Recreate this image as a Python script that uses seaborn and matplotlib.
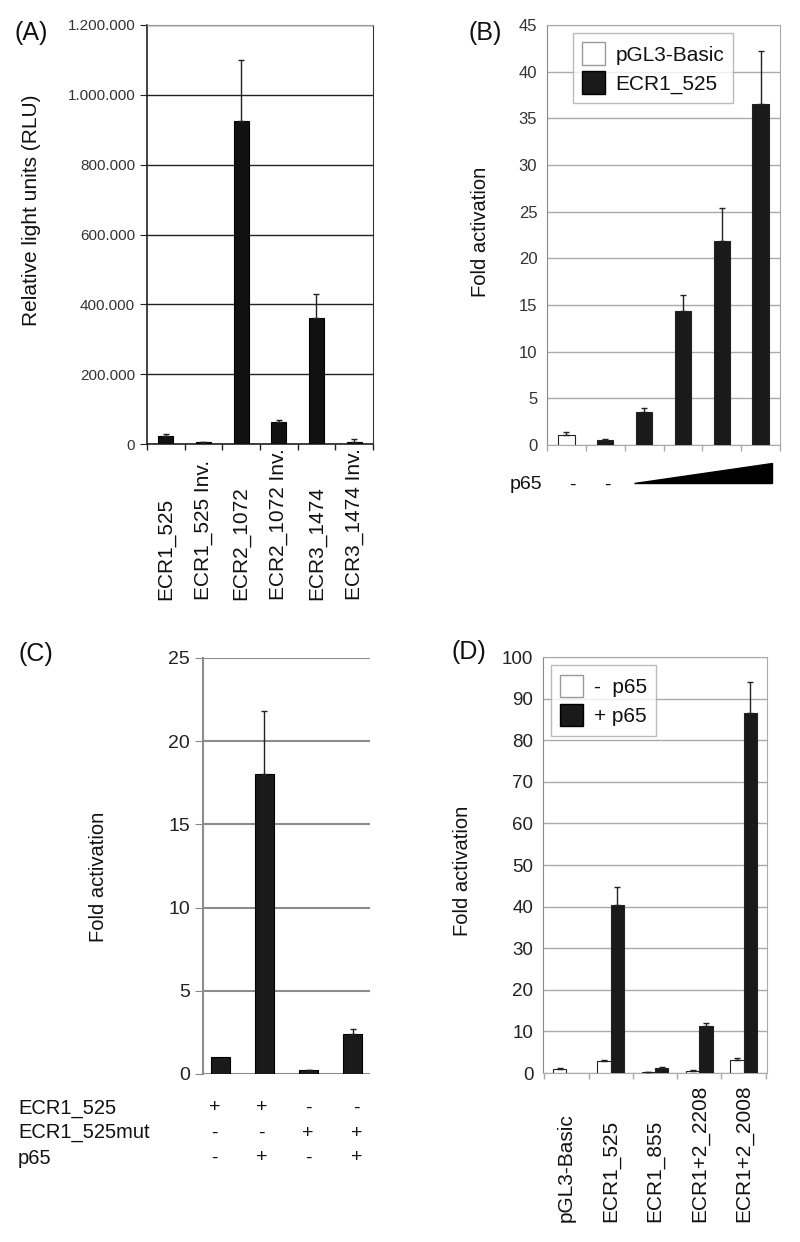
import numpy as np
import pandas as pd
import matplotlib
matplotlib.use("Agg")
import matplotlib.pyplot as plt
import matplotlib.transforms as mtransforms
from matplotlib.container import BarContainer
from matplotlib.patches import Patch, Polygon
import seaborn as sns

# ---- data ----
a_labels = ["ECR1_525", "ECR1_525 Inv.", "ECR2_1072", "ECR2_1072 Inv.", "ECR3_1474", "ECR3_1474 Inv."]
a_values = [24000, 5000, 925000, 62000, 360000, 7000]
a_errors = [6000, 1000, 175000, 8000, 70000, 7000]

b_groups = ["pGL3-Basic", "ECR1_525", "ECR1_525", "ECR1_525", "ECR1_525", "ECR1_525"]
b_slots = ["b0", "b1", "b2", "b3", "b4", "b5"]
b_values = [1.1, 0.55, 3.55, 14.4, 21.9, 36.5]
b_errors = [0.25, 0.12, 0.4, 1.7, 3.5, 5.7]

c_slots = ["c0", "c1", "c2", "c3"]
c_values = [1.05, 18.0, 0.22, 2.4]
c_errors = [0.0, 3.8, 0.05, 0.3]
c_rows = ["ECR1_525", "ECR1_525mut", "p65"]
c_signs = [["+", "+", "-", "-"], ["-", "-", "+", "+"], ["-", "+", "-", "+"]]

d_labels = ["pGL3-Basic", "ECR1_525", "ECR1_855", "ECR1+2_2208", "ECR1+2_2008"]
d_minus = [0.9, 2.9, 0.2, 0.5, 3.1]
d_minus_err = [0.2, 0.3, 0.05, 0.15, 0.5]
d_plus = [np.nan, 40.3, 1.2, 11.2, 86.5]
d_plus_err = [np.nan, 4.3, 0.3, 0.8, 7.4]

sns.set_style("white")
plt.rcParams["font.family"] = ["Liberation Sans", "DejaVu Sans"]
plt.rcParams["text.color"] = "#111111"

fig = plt.figure(figsize=(8, 12.42), dpi=100)
W, H = 800, 1242


def axes_px(l, t, r, b):
    return fig.add_axes([l / W, 1 - b / H, (r - l) / W, (b - t) / H])


def fig_label(x, y, s, **kw):
    fig.text(x / W, 1 - y / H, s, **kw)


def add_err(ax, df, vcol, ecol):
    bars = [b for c in ax.containers if isinstance(c, BarContainer) for b in c]
    for bar in bars:
        h = bar.get_height()
        if not np.isfinite(h):
            continue
        row = df[np.isclose(df[vcol], h)]
        if len(row) == 0:
            continue
        e = row[ecol].iloc[0]
        if e > 0:
            xc = bar.get_x() + bar.get_width() / 2
            ax.errorbar([xc], [h], yerr=[[0], [e]], fmt="none",
                        ecolor="#222222", elinewidth=1, capsize=2.5, capthick=1, zorder=4)


def boundary_ticks(ax, n, color):
    ax.set_xticks(np.arange(n + 1) - 0.5, minor=True)
    ax.tick_params(axis="x", which="minor", bottom=True, length=4, color=color, width=1)
    ax.tick_params(axis="x", which="major", bottom=False)


def bottom_labels(ax, labels, y, size):
    # rotated category names, all starting at the same baseline below the axis
    ax.set_xticks(range(len(labels)))
    ax.set_xticklabels([""] * len(labels))
    tr = mtransforms.blended_transform_factory(ax.transData, ax.transAxes)
    for i, lab in enumerate(labels):
        ax.text(i, y, lab, transform=tr, rotation=90, ha="center", va="bottom",
                fontsize=size, clip_on=False)


# ---- (A) ----
ax = axes_px(147, 25, 373, 444)
dfa = pd.DataFrame({"label": a_labels, "value": a_values, "err": a_errors})
sns.barplot(data=dfa, x="label", y="value", color="#111111", width=0.4,
            edgecolor="#000000", linewidth=0.8, ax=ax, zorder=3)
add_err(ax, dfa, "value", "err")
ax.set_ylim(0, 1200000)
ax.set_yticks(np.arange(0, 1200001, 200000))
ax.set_yticklabels(["0", "200.000", "400.000", "600.000", "800.000", "1.000.000", "1.200.000"],
                   fontsize=11, color="#333333")
ax.yaxis.grid(True, color="#222222", lw=1)
ax.set_axisbelow(True)
ax.set_xlabel("")
ax.set_ylabel("")
ax.tick_params(axis="y", left=True, length=5, color="#222222")
bottom_labels(ax, a_labels, -0.372, 15)
boundary_ticks(ax, len(a_labels), "#222222")
for s in ["left", "bottom"]:
    ax.spines[s].set_color("#222222")
    ax.spines[s].set_linewidth(1.2)
ax.spines["right"].set_color("#333333")
ax.spines["top"].set_color("#999999")
fig_label(32, 210, "Relative light units (RLU)", fontsize=15, rotation=90, ha="center", va="center")
fig_label(15, 33, "(A)", fontsize=18, va="center")

# ---- (B) ----
ax = axes_px(547, 25, 780, 445)
dfb = pd.DataFrame({"slot": b_slots, "group": b_groups, "value": b_values, "err": b_errors})
sns.barplot(data=dfb, x="slot", y="value", hue="group", dodge=False,
            palette={"pGL3-Basic": "#ffffff", "ECR1_525": "#1a1a1a"},
            width=0.42, edgecolor="#222222", linewidth=0.8, ax=ax, zorder=3, legend=False)
add_err(ax, dfb, "value", "err")
ax.set_ylim(0, 45)
ax.set_yticks(np.arange(0, 46, 5))
ax.tick_params(axis="y", labelsize=12, labelcolor="#333333", left=False)
ax.yaxis.grid(True, color="#aaaaaa", lw=1)
ax.set_axisbelow(True)
ax.set_xlabel("")
ax.set_ylabel("")
ax.set_xticks(range(6))
ax.set_xticklabels([""] * 6)
boundary_ticks(ax, 6, "#aaaaaa")
for s in ["top", "right", "bottom"]:
    ax.spines[s].set_color("#aaaaaa")
ax.spines["left"].set_color("#888888")
hb = [Patch(facecolor="#ffffff", edgecolor="#999999", label="pGL3-Basic"),
      Patch(facecolor="#1a1a1a", edgecolor="#000000", label="ECR1_525")]
ax.legend(handles=hb, loc="upper left", bbox_to_anchor=(0.11, 0.981), borderaxespad=0,
          fontsize=15, frameon=True, fancybox=False, edgecolor="#aaaaaa", handlelength=1.1,
          handleheight=1.3, borderpad=0.45, labelspacing=0.3, handletextpad=0.5)
trans = mtransforms.blended_transform_factory(ax.transData, ax.transAxes)
ax.text(-1.45, -0.095, "p65", transform=trans, fontsize=14, va="center")
ax.text(0.15, -0.095, "-", transform=trans, fontsize=14, va="center", ha="center")
ax.text(1.05, -0.095, "-", transform=trans, fontsize=14, va="center", ha="center")
tri = Polygon([[1.75, -0.0905], [5.3, -0.0905], [5.3, -0.043]], closed=True,
              transform=trans, facecolor="#000000", edgecolor="#000000", clip_on=False)
ax.add_patch(tri)
fig_label(481, 232, "Fold activation", fontsize=14.5, rotation=90, ha="center", va="center")
fig_label(468, 33, "(B)", fontsize=18, va="center")

# ---- (C) ----
ax = axes_px(203, 658, 370, 1074)
dfc = pd.DataFrame({"slot": c_slots, "value": c_values, "err": c_errors})
sns.barplot(data=dfc, x="slot", y="value", color="#1a1a1a", width=0.45,
            edgecolor="#000000", linewidth=0.8, ax=ax, zorder=3)
add_err(ax, dfc, "value", "err")
ax.set_ylim(0, 25)
ax.set_yticks(np.arange(0, 26, 5))
ax.tick_params(axis="y", labelsize=14, labelcolor="#222222", left=True, length=6, color="#888888")
ax.yaxis.grid(True, color="#8c8c8c", lw=1.5)
ax.set_axisbelow(True)
ax.set_xlabel("")
ax.set_ylabel("")
ax.set_xticks([])
for s in ["top", "right", "bottom"]:
    ax.spines[s].set_visible(False)
ax.spines["left"].set_color("#8c8c8c")
ax.spines["left"].set_linewidth(1.5)
trans = mtransforms.blended_transform_factory(ax.transData, ax.transAxes)
sign_x = [-0.14, 0.94, 1.99, 3.09]
for i, (rname, signs) in enumerate(zip(c_rows, c_signs)):
    ypx = 1108 + i * 25
    fig_label(18, ypx, rname, fontsize=14.5, va="center")
    for j, sgn in enumerate(signs):
        ax.text(sign_x[j], (1074 - ypx) / 416, sgn, transform=trans, fontsize=14,
                va="center", ha="center")
fig_label(99, 877, "Fold activation", fontsize=14.5, rotation=90, ha="center", va="center")
fig_label(18, 654, "(C)", fontsize=18, va="center")

# ---- (D) ----
ax = axes_px(543, 657, 767, 1073)
dfd = pd.DataFrame({
    "label": d_labels * 2,
    "cond": ["-  p65"] * 5 + ["+ p65"] * 5,
    "value": d_minus + d_plus,
    "err": d_minus_err + d_plus_err,
}).dropna()
sns.barplot(data=dfd, x="label", y="value", hue="cond", hue_order=["-  p65", "+ p65"],
            order=d_labels, palette={"-  p65": "#ffffff", "+ p65": "#1a1a1a"},
            width=0.6, edgecolor="#222222", linewidth=0.8, ax=ax, zorder=3, legend=False)
add_err(ax, dfd, "value", "err")
ax.set_ylim(0, 100)
ax.set_yticks(np.arange(0, 101, 10))
ax.tick_params(axis="y", labelsize=13.5, labelcolor="#222222", left=False)
ax.yaxis.grid(True, color="#aaaaaa", lw=1)
ax.set_axisbelow(True)
ax.set_xlabel("")
ax.set_ylabel("")
bottom_labels(ax, d_labels, -0.358, 15)
boundary_ticks(ax, 5, "#aaaaaa")
for s in ["top", "right", "bottom"]:
    ax.spines[s].set_color("#aaaaaa")
ax.spines["left"].set_color("#888888")
hd = [Patch(facecolor="#ffffff", edgecolor="#999999", label="-  p65"),
      Patch(facecolor="#1a1a1a", edgecolor="#000000", label="+ p65")]
ax.legend(handles=hd, loc="upper left", bbox_to_anchor=(0.036, 0.98), borderaxespad=0,
          fontsize=15, frameon=True, fancybox=False, edgecolor="#aaaaaa", handlelength=1.1,
          handleheight=1.3, borderpad=0.45, labelspacing=0.3, handletextpad=0.5)
fig_label(462, 871, "Fold activation", fontsize=14.5, rotation=90, ha="center", va="center")
fig_label(452, 652, "(D)", fontsize=18, va="center")

fig.savefig("out.png", dpi=100, facecolor="white")
